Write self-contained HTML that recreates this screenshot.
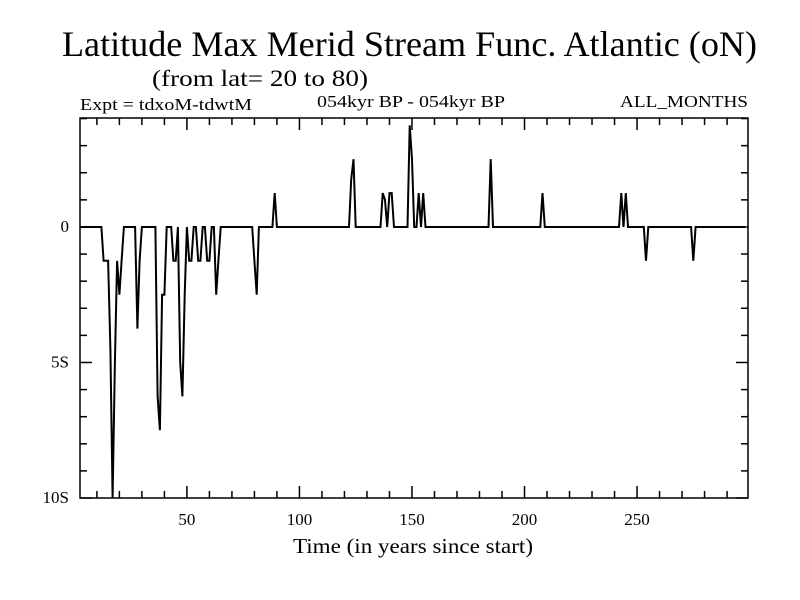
<!DOCTYPE html>
<html><head><meta charset="utf-8">
<style>
body{margin:0;background:#fff;}
svg{display:block;font-family:"Liberation Serif",serif;}
</style></head>
<body>
<svg id="chart" width="800" height="600" viewBox="0 0 800 600">
<rect width="800" height="600" fill="#fff"/>
<text x="62" y="56" font-size="36" textLength="695" lengthAdjust="spacingAndGlyphs">Latitude Max Merid Stream Func. Atlantic (oN)</text>
<text x="152" y="86" font-size="23" textLength="216" lengthAdjust="spacingAndGlyphs">(from lat= 20 to 80)</text>
<text x="80" y="110" font-size="17" textLength="172" lengthAdjust="spacingAndGlyphs">Expt = tdxoM-tdwtM</text>
<text x="317" y="107" font-size="17" textLength="188" lengthAdjust="spacingAndGlyphs">054kyr BP - 054kyr BP</text>
<text x="620" y="107" font-size="17" textLength="128" lengthAdjust="spacingAndGlyphs">ALL_MONTHS</text>
<text x="293" y="553" font-size="21" textLength="240" lengthAdjust="spacingAndGlyphs">Time (in years since start)</text>
<g id="axes"></g>
<path id="series" fill="none" stroke="#000" stroke-width="2"/>
<rect x="80" y="118" width="668" height="380" fill="none" stroke="#000" stroke-width="1.5"/>
</svg>
<script>
const xTickValues=[50,100,150,200,250];
const yTickValues=[0,-5,-10];
const yTickLabels=["0","5S","10S"];
const spikeYears=[13,14,15,16,17,18,19,20,21,28,29,37,38,39,40,44,45,47,48,49,51,52,55,56,59,60,63,64,80,81,89,123,124,137,138,140,141,149,150,153,155,185,208,243,245,254,275];
const spikeValues=[-1.25,-1.25,-1.25,-4.5,-10,-5,-1.25,-2.5,-1.25,-3.75,-1.25,-6.25,-7.5,-2.5,-2.5,-1.25,-1.25,-5,-6.25,-2.5,-1.25,-1.25,-1.25,-1.25,-1.25,-1.25,-2.5,-1.25,-1.25,-2.5,1.25,1.75,2.5,1.25,1,1.25,1.25,3.75,2.5,1.25,1.25,2.5,1.25,1.25,1.25,-1.25,-1.25];
const firstYear=1, lastYear=298;

const X0=80,X1=748,Y0=118,Y1=498;
const xMin=2.5,xMax=299.3,yMin=-10,yMax=4.02;
const xs=v=>X0+(v-xMin)/(xMax-xMin)*(X1-X0);
const ys=v=>Y1-(v-yMin)/(yMax-yMin)*(Y1-Y0);
const NS='http://www.w3.org/2000/svg';
const axes=document.getElementById('axes');
function line(x1,y1,x2,y2,name){
  const l=document.createElementNS(NS,'line');
  l.setAttribute('x1',x1);l.setAttribute('y1',y1);l.setAttribute('x2',x2);l.setAttribute('y2',y2);
  l.setAttribute('stroke','#000');l.setAttribute('stroke-width','1.5');
  
  
  axes.appendChild(l);
}
function text(x,y,s,anchor,name){
  const t=document.createElementNS(NS,'text');
  t.setAttribute('x',x);t.setAttribute('y',y);t.setAttribute('font-size','17');t.setAttribute('text-anchor',anchor);
  t.textContent=s;
  
  
  axes.appendChild(t);
}
for(let v=10;v<xMax;v+=10){
  const major=v%50===0, len=major?12:7, x=xs(v);
  line(x,Y1,x,Y1-len,'x-tick');
  line(x,Y0,x,Y0+len,'x-tick-top');
}
xTickValues.forEach(v=>text(xs(v),525,String(v),'middle','x-tick-label'));
for(let v=-10;v<=4;v++){
  const major=v%5===0, len=major?12:7, y=ys(v);
  line(X0,y,X0+len,y,'y-tick');
  line(X1,y,X1-len,y,'y-tick-right');
}
yTickValues.forEach((v,i)=>text(69,ys(v)+5,yTickLabels[i],'end','y-tick-label'));

const series=[];
for(let yr=firstYear;yr<=lastYear;yr++){
  const k=spikeYears.indexOf(yr);
  series.push([yr,k>=0?spikeValues[k]:0]);
}
let d='';
series.forEach((p,i)=>{const x=Math.max(X0,xs(p[0]));d+=(i?'L':'M')+x.toFixed(1)+' '+ys(p[1]).toFixed(1);});
document.getElementById('series').setAttribute('d',d);
</script>
</body></html>
